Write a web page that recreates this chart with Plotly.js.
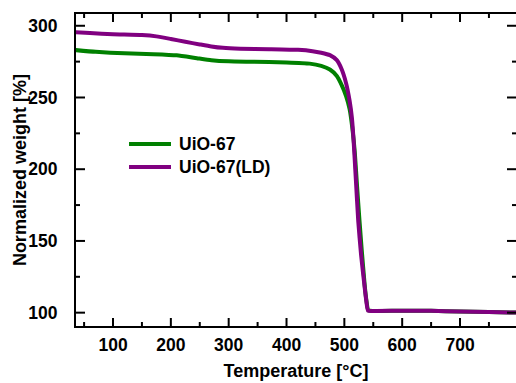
<!DOCTYPE html>
<html>
<head>
<meta charset="utf-8">
<script src="https://cdn.plot.ly/plotly-3.0.1.min.js"></script>
<style>
  html, body { margin: 0; padding: 0; background: #fff; }
  #chart { width: 516px; height: 383px; }
</style>
</head>
<body>
<div id="chart"></div>
<script>
// TGA curves: temperature (°C) vs normalized weight (%)
const tempUiO67 = [34, 70, 120, 170, 210, 245, 270, 300, 340, 400, 440, 460, 475, 487, 495, 503, 509, 514, 518, 522, 526, 530, 535, 538, 541.5, 550, 600, 650, 700, 750, 797];
const weightUiO67 = [283.1, 281.8, 280.8, 280.2, 279.4, 277.4, 276.0, 275.2, 274.9, 274.4, 273.6, 272.0, 269.5, 265.0, 259.0, 251.0, 242.0, 228.0, 212.0, 188.0, 165.0, 144.0, 120.0, 109.0, 101.6, 101.2, 101.4, 101.3, 100.8, 100.4, 100.1];

const tempUiO67LD = [34, 60, 100, 150, 175, 200, 225, 250, 270, 290, 320, 370, 420, 445, 460, 475, 487, 495, 503, 509, 513, 516, 520, 524, 529, 535, 538, 541, 550, 600, 650, 700, 750, 797];
const weightUiO67LD = [295.6, 294.9, 294.1, 293.5, 292.6, 290.8, 288.8, 287.0, 285.6, 284.6, 284.0, 283.7, 283.2, 282.3, 281.2, 279.5, 276.0, 270.0, 260.0, 248.0, 236.0, 220.0, 192.0, 164.0, 140.0, 118.0, 108.0, 101.4, 101.2, 101.4, 101.3, 100.8, 100.4, 100.1];

const seriesNames = ['UiO-67', 'UiO-67(LD)'];
const seriesColors = ['#008000', '#800080'];

const xTicks = [100, 200, 300, 400, 500, 600, 700];
const xMinorTicks = [50, 150, 250, 350, 450, 550, 650, 750];
const yTicks = [100, 150, 200, 250, 300];
const yMinorTicks = [125, 175, 225, 275];
const xRange = [36, 796.8];
const yRange = [90.7, 308.2];

const W = 516, H = 383;
const MARGIN = { l: 76, r: 0, t: 14, b: 57 };
const plotW = W - MARGIN.l - MARGIN.r;
const plotH = H - MARGIN.t - MARGIN.b;

const FONT = 'Liberation Sans, Arial, Helvetica, sans-serif';
const boldFont = (size) => ({ family: FONT, size: size, color: '#000', weight: 'bold' });

const traces = seriesNames.map((name, i) => ({
  x: i === 0 ? tempUiO67 : tempUiO67LD,
  y: i === 0 ? weightUiO67 : weightUiO67LD,
  name: name, mode: 'lines', showlegend: false,
  line: { color: seriesColors[i], width: 4, shape: 'spline', smoothing: 0.5 }
}));

// Legend: line samples and labels placed inside the plot area (paper coords)
const legendX0 = 0.1205, legendX1 = 0.2159, legendTextX = 0.2295;
const legendRowsY = [0.5833, 0.5096];
const shapes = seriesNames.map((name, i) => ({
  type: 'line', xref: 'paper', yref: 'paper',
  x0: legendX0, x1: legendX1, y0: legendRowsY[i], y1: legendRowsY[i],
  line: { color: seriesColors[i], width: 4 }
}));
const annotations = seriesNames.map((name, i) => ({
  xref: 'paper', yref: 'paper', x: legendTextX, y: legendRowsY[i],
  xanchor: 'left', yanchor: 'middle', text: name, showarrow: false,
  font: boldFont(17.5)
}));
// y-axis title, placed left of the tick labels
annotations.push({
  xref: 'paper', yref: 'paper', x: -0.127, y: 0.5,
  xanchor: 'center', yanchor: 'middle', textangle: -90,
  text: 'Normalized weight [%]', showarrow: false, font: boldFont(18)
});

// Inward tick marks on all four frame edges, in paper fractions
const tickLine = { color: '#000', width: 2 };
const toPaperX = v => (v - xRange[0]) / (xRange[1] - xRange[0]);
const toPaperY = v => (v - yRange[0]) / (yRange[1] - yRange[0]);
function xTickMarks(vals, lenPx) {
  const len = lenPx / plotH;
  vals.forEach(v => {
    const px = toPaperX(v);
    shapes.push({ type: 'line', xref: 'paper', yref: 'paper', x0: px, x1: px, y0: 0, y1: len, line: tickLine });
    shapes.push({ type: 'line', xref: 'paper', yref: 'paper', x0: px, x1: px, y0: 1, y1: 1 - len, line: tickLine });
  });
}
function yTickMarks(vals, lenPx) {
  const len = lenPx / plotW;
  vals.forEach(v => {
    const py = toPaperY(v);
    shapes.push({ type: 'line', xref: 'paper', yref: 'paper', x0: 0, x1: len, y0: py, y1: py, line: tickLine });
    shapes.push({ type: 'line', xref: 'paper', yref: 'paper', x0: 1, x1: 1 - len, y0: py, y1: py, line: tickLine });
  });
}
xTickMarks(xTicks, 8);
xTickMarks(xMinorTicks, 4);
yTickMarks(yTicks, 9);
yTickMarks(yMinorTicks, 4);

const layout = {
  width: W, height: H,
  margin: MARGIN,
  paper_bgcolor: '#fff', plot_bgcolor: '#fff',
  showlegend: false,
  shapes: shapes,
  annotations: annotations,
  xaxis: {
    range: xRange, showgrid: false, zeroline: false,
    showline: true, linecolor: '#000', linewidth: 2, mirror: true,
    tickmode: 'array', tickvals: xTicks, ticktext: xTicks.map(String),
    ticks: '', tickfont: boldFont(17.5), ticklabelstandoff: 2,
    title: { text: 'Temperature [°C]', standoff: 10, font: boldFont(18) }
  },
  yaxis: {
    range: yRange, showgrid: false, zeroline: false,
    showline: true, linecolor: '#000', linewidth: 2, mirror: true,
    tickmode: 'array', tickvals: yTicks, ticktext: yTicks.map(String),
    ticks: '', tickfont: boldFont(17.5), ticklabelstandoff: 13
  }
};

Plotly.newPlot('chart', traces, layout, { displayModeBar: false, staticPlot: true });
</script>
</body>
</html>
